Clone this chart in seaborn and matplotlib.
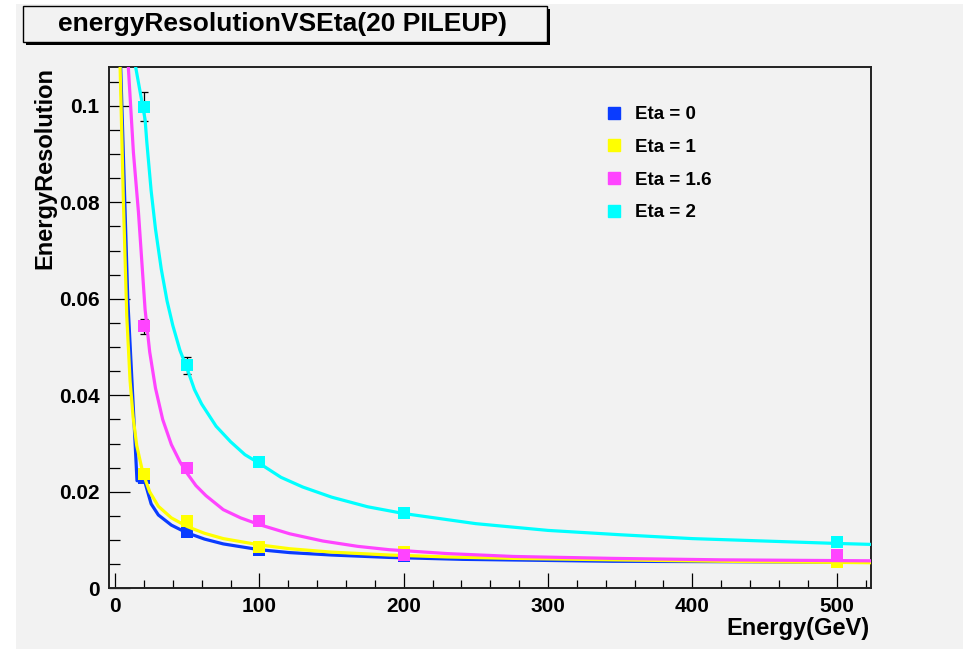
import pandas as pd
import matplotlib
matplotlib.use("Agg")
import matplotlib.pyplot as plt
import seaborn as sns
from matplotlib.patches import Rectangle
from matplotlib.lines import Line2D
from matplotlib.ticker import MultipleLocator

# measured points
energy = [20, 50, 100, 200, 500]
labels = ["Eta = 0", "Eta = 1", "Eta = 1.6", "Eta = 2"]
colors = ["#0a3cff", "#ffff00", "#ff44ff", "#00ffff"]

res_eta0 = [0.0228, 0.0116, 0.0080, 0.0067, 0.0056]
res_eta1 = [0.0237, 0.0140, 0.0085, 0.0075, 0.0054]
res_eta16 = [0.0543, 0.0250, 0.0140, 0.0068, 0.0070]
res_eta2 = [0.0998, 0.0462, 0.0261, 0.0156, 0.0095]

err_eta0 = [0.0008, 0.0006, 0.0005, 0.0004, 0.0004]
err_eta1 = [0.0008, 0.0006, 0.0005, 0.0004, 0.0004]
err_eta16 = [0.0016, 0.0009, 0.0006, 0.0004, 0.0004]
err_eta2 = [0.0030, 0.0017, 0.0008, 0.0005, 0.0004]

# fitted curves
fit_e_eta0 = [3.9, 8.8, 13.4, 15.2, 20.5, 25, 30, 39, 49, 62, 75, 100, 121, 150, 190, 241, 345, 440, 524]
fit_r_eta0 = [0.108, 0.0600, 0.0330, 0.0223, 0.0222, 0.0175, 0.0152, 0.0131, 0.0116, 0.0102, 0.0092, 0.0080,
              0.0074, 0.0069, 0.0064, 0.0060, 0.0056, 0.0055, 0.0054]
fit_e_eta1 = [3.5, 5.8, 8.1, 10.4, 12.5, 15, 19.2, 24, 30, 39, 50, 62, 75, 100, 121, 150, 190, 230, 276, 345,
              420, 524]
fit_r_eta1 = [0.108, 0.0800, 0.0565, 0.0430, 0.0355, 0.0296, 0.0240, 0.0200, 0.0170, 0.0146, 0.0128, 0.0114,
              0.0103, 0.0090, 0.0082, 0.0075, 0.0069, 0.0065, 0.0062, 0.0059, 0.0056, 0.0053]
fit_e_eta16 = [9.2, 12.7, 16.2, 20.8, 24, 28, 33, 39, 45, 50, 56, 63, 75, 87, 100, 121, 144, 168, 190, 230, 276,
               345, 420, 524]
fit_r_eta16 = [0.108, 0.0904, 0.0780, 0.0578, 0.0490, 0.0415, 0.0350, 0.0298, 0.0262, 0.0238, 0.0213, 0.0192,
               0.0163, 0.0146, 0.0132, 0.0113, 0.0098, 0.0087, 0.0080, 0.0072, 0.0066, 0.0062, 0.0059, 0.0057]
fit_e_eta2 = [14.3, 20.8, 22, 25, 28, 32, 36, 40, 45, 50, 55, 60, 70, 80, 90, 100, 115, 130, 150, 175, 200, 250,
              300, 350, 400, 450, 500, 524]
fit_r_eta2 = [0.108, 0.0972, 0.0925, 0.0824, 0.0745, 0.0662, 0.0596, 0.0545, 0.0493, 0.0455, 0.0412, 0.0382,
              0.0336, 0.0304, 0.0277, 0.0259, 0.0230, 0.0210, 0.0189, 0.0169, 0.0155, 0.0134, 0.0120, 0.0111,
              0.0103, 0.0098, 0.0093, 0.0091]

points = pd.concat([
    pd.DataFrame({"E": energy, "res": r, "err": e, "eta": lab})
    for r, e, lab in zip([res_eta0, res_eta1, res_eta16, res_eta2],
                         [err_eta0, err_eta1, err_eta16, err_eta2], labels)
])
fits = pd.concat([
    pd.DataFrame({"E": fe, "res": fr, "eta": lab})
    for fe, fr, lab in zip([fit_e_eta0, fit_e_eta1, fit_e_eta16, fit_e_eta2],
                           [fit_r_eta0, fit_r_eta1, fit_r_eta16, fit_r_eta2], labels)
])

bg = "#f2f2f2"
plt.rcParams["font.family"] = ["Liberation Sans", "DejaVu Sans"]
plt.rcParams["font.weight"] = "bold"

fig = plt.figure(figsize=(9.69, 6.49), dpi=100, facecolor="white")
W, H = 969, 649
fig.patches.append(Rectangle((16 / W, 0), 947 / W, 645 / H, transform=fig.transFigure,
                             facecolor=bg, edgecolor="none", zorder=-10))

ax = fig.add_axes([109 / W, 1 - 588.3 / H, 762 / W, 521 / H])
ax.set_facecolor(bg)

palette = dict(zip(labels, colors))
for i, lab in enumerate(labels):
    sub = points[points.eta == lab]
    ax.errorbar(sub.E, sub.res, yerr=sub.err, fmt="none", ecolor="black", elinewidth=0.9,
                capsize=3, capthick=0.9, zorder=2 + i * 0.1)
    sns.lineplot(data=fits[fits.eta == lab], x="E", y="res", color=palette[lab], lw=2.3,
                 sort=False, estimator=None, ax=ax, zorder=3 + i * 0.1)
    sns.scatterplot(data=sub, x="E", y="res", color=palette[lab], marker="s", s=85,
                    linewidth=0, ax=ax, zorder=3.05 + i * 0.1)

ax.set_xlim(-4.2, 523.8)
ax.set_ylim(0.0002, 0.108)
ax.xaxis.set_major_locator(MultipleLocator(100))
ax.xaxis.set_minor_locator(MultipleLocator(20))
ax.yaxis.set_minor_locator(MultipleLocator(0.005))
ax.set_yticks([0, 0.02, 0.04, 0.06, 0.08, 0.1])
ax.set_yticklabels(["0", "0.02", "0.04", "0.06", "0.08", "0.1"])
ax.tick_params(axis="x", which="major", direction="in", length=11, width=0.9, labelsize=15, pad=6)
ax.tick_params(axis="x", which="minor", direction="in", length=6, width=0.9)
ax.tick_params(axis="y", which="major", direction="in", length=15, width=0.9, labelsize=15, pad=7)
ax.tick_params(axis="y", which="minor", direction="in", length=8, width=0.9)
for lbl in ax.get_xticklabels() + ax.get_yticklabels():
    lbl.set_fontweight("bold")
for sp in ax.spines.values():
    sp.set_linewidth(1.4)
    sp.set_color("#222222")

ax.set_xlabel("")
ax.set_ylabel("")
fig.text(870 / W, 1 - 628 / H, "Energy(GeV)", ha="right", va="center", fontsize=17, fontweight="bold")
fig.text(45 / W, 1 - 67 / H, "EnergyResolution", ha="center", va="top", rotation=90,
         fontsize=17, fontweight="bold")

handles = [Line2D([], [], marker="s", linestyle="none", color=c, markersize=9) for c in colors]
ax.legend(handles, labels, loc="upper left", bbox_to_anchor=(0.64, 0.94), frameon=False,
          prop={"size": 13.5, "weight": "bold"}, handlelength=1.0, handletextpad=0.67,
          labelspacing=0.83, borderaxespad=0)

# title box with shadow
fig.patches.append(Rectangle((25.5 / W, 1 - 45 / H), 524 / W, 36 / H, transform=fig.transFigure,
                             facecolor="black", edgecolor="none", zorder=5))
fig.patches.append(Rectangle((23 / W, 1 - 42 / H), 524 / W, 36 / H, transform=fig.transFigure,
                             facecolor=bg, edgecolor="black", lw=1.0, zorder=6))
fig.text(283 / W, 1 - 24 / H, "energyResolutionVSEta(20 PILEUP)", ha="center", va="center",
         fontsize=19, fontweight="bold", zorder=7)

fig.savefig("out.png", dpi=100, facecolor=fig.get_facecolor())
